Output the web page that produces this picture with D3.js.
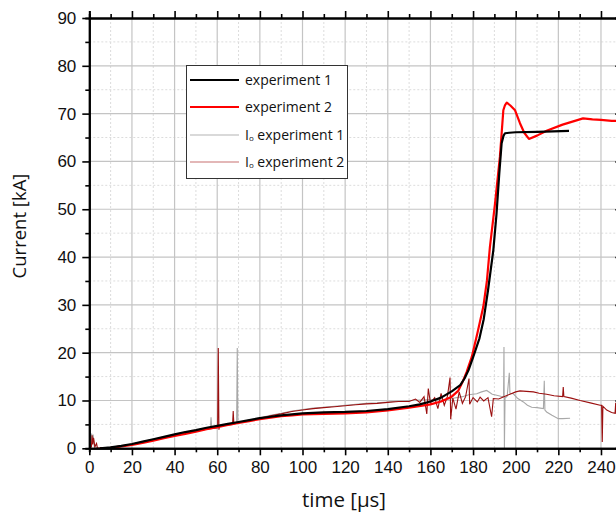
<!DOCTYPE html>
<html>
<head>
<meta charset="utf-8">
<script src="https://cdnjs.cloudflare.com/ajax/libs/d3/7.8.5/d3.min.js"></script>
<style>
  body { margin: 0; background: #fff; }
  svg { display: block; }
</style>
</head>
<body>
<div id="chart"></div>
<script>
// data (time in µs, current in kA)
var exp1Time = [5, 10, 15, 20, 25, 30, 35, 40, 45, 50, 55, 60, 65, 70, 75, 80, 85, 90, 95, 100,
  110, 120, 130, 140, 150, 155, 160, 165, 170, 174, 176, 178, 180, 183, 185, 187, 189.5, 191,
  192.3, 193.4, 194.3, 195, 197, 200, 210, 225];
var exp1Current = [0, 0.2, 0.5, 0.9, 1.4, 1.9, 2.4, 2.9, 3.4, 3.8, 4.3, 4.7, 5.1, 5.5, 5.9, 6.3, 6.6, 6.9, 7.1, 7.3,
  7.5, 7.6, 7.8, 8.2, 8.8, 9.2, 9.8, 10.6, 11.9, 13.2, 14.6, 16.5, 19, 23, 27, 33, 41.4, 49,
  57.5, 63.8, 65.4, 65.9, 66.0, 66.1, 66.2, 66.4];

var exp2Time = [5, 10, 15, 20, 25, 30, 35, 40, 45, 50, 55, 60, 65, 70, 75, 80, 85, 90, 95, 100,
  110, 120, 130, 140, 150, 160, 165, 170, 173, 175, 177, 179.4, 182, 184.8, 186.5, 187.9, 190.3,
  192.6, 194.2, 195, 195.8, 197.5, 199.7, 202, 204, 206.2, 210, 214.5, 222, 231.6, 236, 240, 245, 250];
var exp2Current = [0, 0.1, 0.4, 0.7, 1.1, 1.6, 2.1, 2.6, 3.0, 3.5, 4.0, 4.4, 4.9, 5.3, 5.7, 6.1, 6.4, 6.7, 6.9, 7.1,
  7.2, 7.3, 7.5, 7.9, 8.5, 9.2, 9.8, 10.8, 12, 13.8, 16, 19.1, 24, 29.6, 35, 42.1, 51.2,
  61, 70.7, 71.8, 72.3, 71.7, 70.7, 68, 66, 64.7, 65.4, 66.4, 67.7, 69, 68.8, 68.7, 68.5, 68.5];

var io1Time = [0, 0.8, 1.1, 1.4, 1.8, 2.3, 3, 5, 8, 12, 16, 20, 25, 30, 35, 40, 45, 50, 54, 56.8,
  57.1, 57.4, 60, 64, 68, 69.1, 69.4, 69.7, 70.5, 75, 80, 85, 90, 95, 100, 105, 110, 115, 120,
  125, 130, 135, 140, 145, 150, 155, 160, 165, 170, 175, 178, 181.7, 184, 186.4, 189, 191.1, 193,
  194.3, 194.5, 194.7, 195, 196, 197, 197.3, 198.9, 201, 203.6, 205.5, 207.5, 210, 213, 213.4,
  213.7, 214.5, 217, 220, 222, 225.5];
var io1Current = [0, 0.1, 3.1, 1.2, 2.9, 0.4, 0.2, 0, 0.1, 0.3, 0.6, 0.9, 1.4, 1.9, 2.4, 2.9, 3.3, 3.8, 4.2, 4.3,
  6.5, 4.4, 4.6, 5.0, 5.3, 5.2, 21, 5.5, 5.4, 5.9, 6.4, 6.9, 7.3, 7.8, 8.1, 8.4, 8.6, 8.8, 9.0,
  9.2, 9.4, 9.5, 9.7, 9.9, 10.0, 10.1, 10.2, 10.1, 10.4, 10.8, 11.2, 11.4, 11.8, 12.1, 11.3, 11.1, 10.9,
  10.8, 21.2, 0, 10.5, 10.9, 15.8, 11.5, 11.4, 10.4, 9.7, 9.0, 8.6, 8.5, 8.3, 14.1,
  8.0, 7.6, 6.9, 6.2, 6.2, 6.3];

var io2Time = [0, 1.0, 1.3, 1.6, 2, 2.6, 3.4, 3.8, 6, 10, 15, 20, 25, 30, 35, 40, 45, 50, 55, 60.2,
  60.5, 60.8, 61.1, 63, 67.2, 67.5, 67.8, 70, 75, 80, 85, 90, 95, 100, 105, 110, 115, 120, 125,
  130, 135, 140, 145, 150, 153, 155, 157, 158.3, 159, 160, 162, 163.5, 165, 166.5, 168, 169.2,
  169.5, 170.5, 172, 173.5, 175, 176.5, 178.1, 178.4, 180, 182, 183.3, 185, 187, 188.7, 189.5,
  192, 195, 197.3, 200, 202, 205, 208.3, 211, 214.5, 218, 222, 222.3, 222.6, 226, 230.2, 235,
  239.6, 240.3, 240.6, 240.9, 242.7, 245, 246.6, 246.9, 247.2];
var io2Current = [0, 0.3, 2.7, 0.8, 2.2, 0.3, 1.0, 0.1, 0, 0.1, 0.4, 0.8, 1.3, 1.8, 2.3, 2.7, 3.1, 3.6, 4.0, 4.3,
  21, 3.9, 4.6, 4.8, 5.0, 7.8, 5.1, 5.3, 5.8, 6.3, 6.8, 7.2, 7.7, 8.0, 8.3, 8.5, 8.7, 8.9, 9.1,
  9.3, 9.4, 9.6, 9.8, 9.8, 10.3, 9.6, 10.8, 7.2, 12.5, 9.5, 10.6, 8.3, 11.5, 9.0, 10.9, 14.8,
  6.1, 10.5, 8.2, 11.8, 9.4, 10.8, 14.6, 9.2, 10.6, 9.7, 10.7, 9.9, 10.6, 6.6, 10.4,
  10.3, 10.9, 11.3, 11.8, 12.0, 11.9, 11.8, 11.5, 11.3, 11.0, 10.8, 12.8, 10.8, 10.5, 10.0, 9.5,
  9.0, 9.0, 1.3, 8.8, 8.0, 7.5, 7.3, 9.5, 7.2];

var xTicks = [0, 20, 40, 60, 80, 100, 120, 140, 160, 180, 200, 220, 240];
var yTicks = [0, 10, 20, 30, 40, 50, 60, 70, 80, 90];
var legendLabels = ["experiment 1", "experiment 2", "experiment 1", "experiment 2"];

// SVG parameters
var svgWidth = 616;
var svgHeight = 514;
var margin = { top: 18, left: 89.3 };
var plotRight = 622.3;
var plotBottom = 448.3;

var svg = d3.select("#chart")
  .append("svg")
  .attr("width", svgWidth)
  .attr("height", svgHeight);

var xScale = d3.scaleLinear().domain([0, 250]).range([margin.left, plotRight]);
var yScale = d3.scaleLinear().domain([0, 90]).range([plotBottom, margin.top]);

var xMinor = d3.range(10, 250, 20);
var yMinor = d3.range(5, 90, 10);

svg.append("defs").append("clipPath")
  .attr("id", "plot-clip")
  .append("rect")
  .attr("x", margin.left)
  .attr("y", margin.top)
  .attr("width", plotRight - margin.left)
  .attr("height", plotBottom - margin.top);

// grid lines
var grid = svg.append("g");
grid.selectAll(".xminor").data(xMinor).enter().append("line")
  .attr("x1", d => xScale(d)).attr("x2", d => xScale(d))
  .attr("y1", margin.top).attr("y2", plotBottom)
  .attr("stroke", "#dcdcdc").attr("stroke-dasharray", "2,2");
grid.selectAll(".yminor").data(yMinor).enter().append("line")
  .attr("x1", margin.left).attr("x2", plotRight)
  .attr("y1", d => yScale(d)).attr("y2", d => yScale(d))
  .attr("stroke", "#dcdcdc").attr("stroke-dasharray", "2,2");
grid.selectAll(".xmajor").data(xTicks.slice(1)).enter().append("line")
  .attr("x1", d => xScale(d)).attr("x2", d => xScale(d))
  .attr("y1", margin.top).attr("y2", plotBottom)
  .attr("stroke", "#c4c4c4").attr("stroke-width", 1.2);
grid.selectAll(".ymajor").data(yTicks.slice(1, -1)).enter().append("line")
  .attr("x1", margin.left).attr("x2", plotRight)
  .attr("y1", d => yScale(d)).attr("y2", d => yScale(d))
  .attr("stroke", "#c4c4c4").attr("stroke-width", 1.2);

// series
function zipSeries(times, values) {
  return times.map((t, i) => [t, values[i]]);
}
var line = d3.line()
  .x(d => xScale(d[0]))
  .y(d => yScale(d[1]));

var seriesGroup = svg.append("g").attr("clip-path", "url(#plot-clip)");
seriesGroup.append("path")
  .datum(zipSeries(io1Time, io1Current))
  .attr("d", line).attr("fill", "none")
  .attr("stroke", "#a8a8a8").attr("stroke-width", 1.1);
seriesGroup.append("path")
  .datum(zipSeries(io2Time, io2Current))
  .attr("d", line).attr("fill", "none")
  .attr("stroke", "#9b0f0f").attr("stroke-width", 1.1);
seriesGroup.append("path")
  .datum(zipSeries(exp2Time, exp2Current))
  .attr("d", line).attr("fill", "none")
  .attr("stroke", "#ff0000").attr("stroke-width", 2.2)
  .attr("stroke-linejoin", "round");
seriesGroup.append("path")
  .datum(zipSeries(exp1Time, exp1Current))
  .attr("d", line).attr("fill", "none")
  .attr("stroke", "#000").attr("stroke-width", 2.2)
  .attr("stroke-linejoin", "round");

// axes
var tickFont = "'Liberation Sans', Arial, sans-serif";

svg.append("g")
  .attr("transform", `translate(0, ${plotBottom})`)
  .call(d3.axisBottom(xScale).tickValues(xTicks).tickSizeInner(7).tickSizeOuter(0).tickPadding(6));
svg.append("g")
  .attr("transform", `translate(${margin.left}, 0)`)
  .call(d3.axisLeft(yScale).tickValues(yTicks).tickSizeInner(7).tickSizeOuter(0).tickPadding(6));
svg.append("g")
  .attr("transform", `translate(0, ${margin.top})`)
  .call(d3.axisBottom(xScale).tickValues(xTicks).tickSize(-7).tickFormat(""));
svg.append("g")
  .attr("transform", `translate(${plotRight}, 0)`)
  .call(d3.axisRight(yScale).tickValues(yTicks).tickSize(-7).tickFormat(""));

// minor ticks
svg.append("g").attr("transform", `translate(0, ${plotBottom})`)
  .call(d3.axisBottom(xScale).tickValues(xMinor).tickSize(4).tickFormat(""));
svg.append("g").attr("transform", `translate(${margin.left}, 0)`)
  .call(d3.axisLeft(yScale).tickValues(yMinor).tickSize(4).tickFormat(""));
svg.append("g").attr("transform", `translate(0, ${margin.top})`)
  .call(d3.axisBottom(xScale).tickValues(xMinor).tickSize(-4).tickFormat(""));
svg.append("g").attr("transform", `translate(${plotRight}, 0)`)
  .call(d3.axisRight(yScale).tickValues(yMinor).tickSize(-4).tickFormat(""));

svg.selectAll(".domain").attr("stroke", "#000").attr("stroke-width", 2);
svg.selectAll(".tick line").attr("stroke", "#000").attr("stroke-width", 1.6);
svg.selectAll(".tick text")
  .attr("font-family", tickFont)
  .attr("font-size", 17)
  .attr("fill", "#111");

// axis titles
var titleFont = "'Open Sans', Lato, sans-serif";
svg.append("text")
  .attr("x", 344)
  .attr("y", 507)
  .attr("text-anchor", "middle")
  .attr("font-family", titleFont)
  .attr("font-size", 20.5)
  .attr("fill", "#111")
  .text("time [µs]");
svg.append("text")
  .attr("transform", "rotate(-90)")
  .attr("x", -226)
  .attr("y", 26)
  .attr("text-anchor", "middle")
  .attr("font-family", titleFont)
  .attr("font-size", 18.5)
  .attr("fill", "#111")
  .text("Current [kA]");

// legend
var legendColors = ["#000", "#ff0000", "#b4b4b4", "#c87070"];
var legendWidths = [2.2, 2.2, 1.2, 1.2];
var legendRows = [80, 107, 135, 162];
var legend = svg.append("g");
legend.append("rect")
  .attr("x", 186.5).attr("y", 65.5)
  .attr("width", 161).attr("height", 113)
  .attr("fill", "#fff").attr("stroke", "#333").attr("stroke-width", 1);
legendLabels.forEach(function(label, i) {
  legend.append("line")
    .attr("x1", 190).attr("x2", 239)
    .attr("y1", legendRows[i]).attr("y2", legendRows[i])
    .attr("stroke", legendColors[i]).attr("stroke-width", legendWidths[i]);
  var txt = legend.append("text")
    .attr("x", 245)
    .attr("y", legendRows[i] + 5)
    .attr("font-family", titleFont)
    .attr("font-size", 14)
    .attr("fill", "#111");
  if (i >= 2) {
    txt.append("tspan").text("I");
    txt.append("tspan").attr("font-size", 8).attr("dy", 1).text("o");
    txt.append("tspan").attr("dy", -1).text(" " + label);
  } else {
    txt.text(label);
  }
});
</script>
</body>
</html>
